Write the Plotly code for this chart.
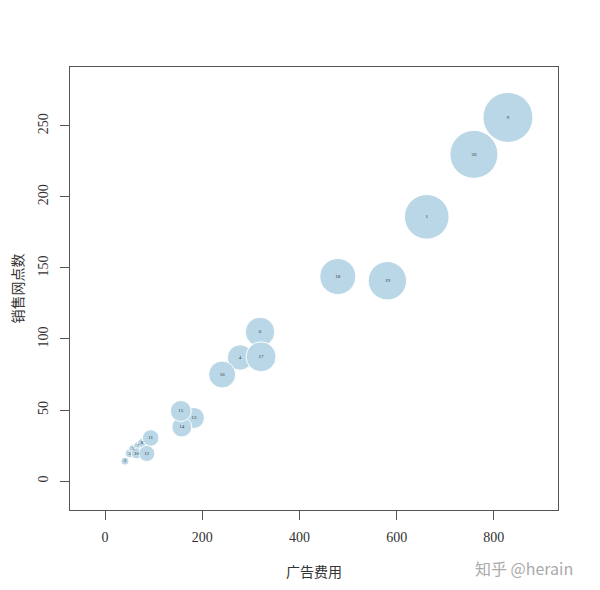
import plotly.graph_objects as go

labels = ["1", "2", "3", "4", "5", "6", "7", "8", "9", "10",
          "11", "12", "13", "14", "15", "16", "17", "18", "19", "20"]
ad_cost = [662, 41, 51, 278, 58, 319, 68, 76, 829, 65,
           94, 86, 183, 158, 156, 241, 321, 479, 581, 759]
outlets = [186, 14, 19.5, 87, 22.5, 105, 24.6, 26.7, 256, 19.5,
           30.3, 19.4, 44.4, 38, 49.3, 75, 87.5, 144, 141, 230]
sales = [223, 40, 45, 127, 45, 147, 45, 45, 250, 55,
         83, 80, 105, 100, 105, 135, 150, 180, 192, 240]

x_ticks = [0, 200, 400, 600, 800]
y_ticks = [0, 50, 100, 150, 200, 250]

fig = go.Figure()
fig.add_trace(go.Scatter(
    x=ad_cost, y=outlets, mode="markers+text", text=labels,
    textposition="middle center",
    textfont=dict(family="Liberation Serif", size=5, color="#333"),
    marker=dict(size=sales, sizemode="diameter", sizeref=5,
                color="#B9D7E6", opacity=1,
                line=dict(color="white", width=1)),
    hoverinfo="skip", showlegend=False,
))

axis_common = dict(
    showgrid=False, zeroline=False, showline=True, mirror=True,
    linecolor="#555", linewidth=1, ticks="outside", ticklen=9,
    tickcolor="#555", tickwidth=1, automargin=False,
    tickfont=dict(family="Liberation Serif", size=14, color="#333"),
)

fig.update_xaxes(range=[-72, 932], tickvals=x_ticks, ticklabelstandoff=5, **axis_common)
fig.update_yaxes(range=[-20.4, 291.5], tickvals=y_ticks, tickangle=-90,
                 ticklabelstandoff=6, **axis_common)

fig.update_layout(
    width=592, height=582,
    margin=dict(l=62, r=42, t=59, b=80),
    plot_bgcolor="white", paper_bgcolor="white",
    annotations=[
        dict(text="广告费用", xref="paper", yref="paper", x=0.5, y=0,
             xanchor="center", yanchor="middle", yshift=-61, showarrow=False,
             font=dict(family="Noto Sans CJK SC", size=14, color="#333")),
        dict(text="销售网点数", xref="paper", yref="paper", x=0, y=0.5,
             xanchor="center", yanchor="middle", xshift=-54, textangle=-90,
             showarrow=False,
             font=dict(family="Noto Sans CJK SC", size=14, color="#333")),
        dict(text="知乎 @herain", xref="paper", yref="paper", x=1, y=0,
             xanchor="right", yanchor="middle", xshift=17, yshift=-58,
             showarrow=False,
             font=dict(family="Noto Sans CJK SC", size=16, color="#aaa")),
    ],
)

fig.write_html("out.html")
